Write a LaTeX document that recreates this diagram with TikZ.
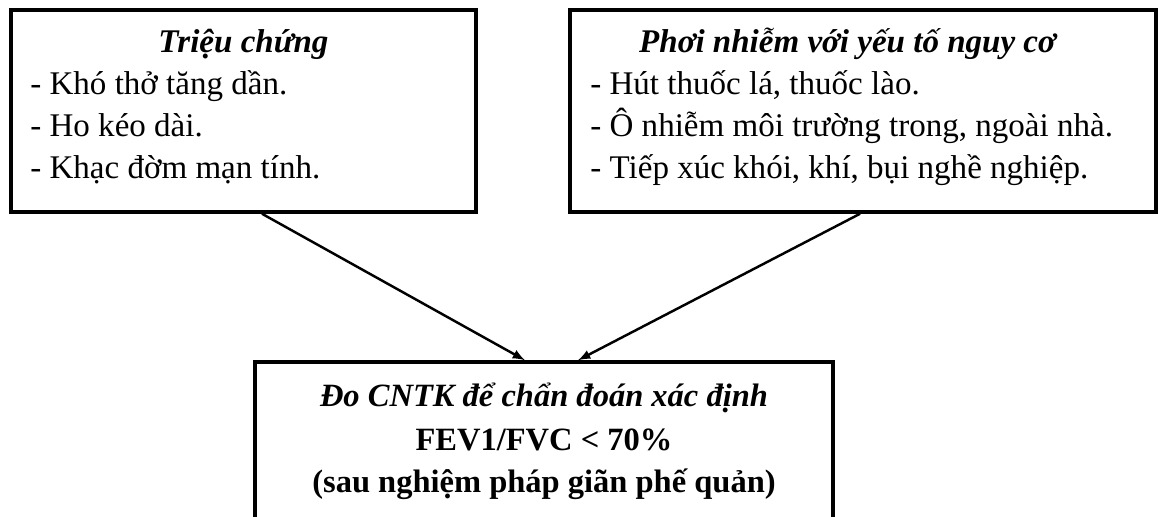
\documentclass[tikz,border=0pt]{standalone}
\usepackage{fontspec}
\setmainfont{Liberation Serif}
\begin{document}
\begin{tikzpicture}[>=latex,
  box/.style={draw, line width=2pt, inner sep=0pt},
  head/.style={font=\fontsize{18.8}{22}\selectfont\bfseries\itshape},
  item/.style={anchor=base west, inner sep=0pt, font=\fontsize{18.8}{22}\selectfont},
  res/.style={font=\fontsize{18.5}{22}\selectfont\bfseries}]
\clip (0,0) rectangle (23.16,10.32);
\node[box, minimum width=9.3cm, minimum height=4.04cm] (sym) at (4.87,8.1) {};
\node[box, minimum width=11.72cm, minimum height=4.04cm] (risk) at (17.26,8.1) {};
\node[box, minimum width=11.56cm, minimum height=4cm] (cntk) at (10.88,1.08) {};

\node[head] (symh) at (4.87,9.44) {Triệu chứng};
\node[item] (sym1) at (0.6,8.44) {- Khó thở tăng dần.};
\node[item] (sym2) at (0.6,7.6) {- Ho kéo dài.};
\node[item] (sym3) at (0.6,6.76) {- Khạc đờm mạn tính.};

\node[head] (riskh) at (16.95,9.44) {Phơi nhiễm với yếu tố nguy cơ};
\node[item] (risk1) at (11.8,8.44) {- Hút thuốc lá, thuốc lào.};
\node[item] (risk2) at (11.8,7.6) {- Ô nhiễm môi trường trong, ngoài nhà.};
\node[item] (risk3) at (11.8,6.76) {- Tiếp xúc khói, khí, bụi nghề nghiệp.};

\node[res] (cntkh) at (10.88,2.36) {\itshape Đo CNTK để chẩn đoán xác định};
\node[res] (cntk1) at (10.88,1.52) {FEV1/FVC < 70\%};
\node[res] (cntk2) at (10.88,0.64) {(sau nghiệm pháp giãn phế quản)};

\path[draw,line width=1.4pt,->] ([xshift=0.37cm]sym.south) -- ([xshift=-0.38cm]cntk.north);
\path[draw,line width=1.4pt,->] ([xshift=-0.06cm]risk.south) -- ([xshift=0.68cm]cntk.north);
\end{tikzpicture}
\end{document}
